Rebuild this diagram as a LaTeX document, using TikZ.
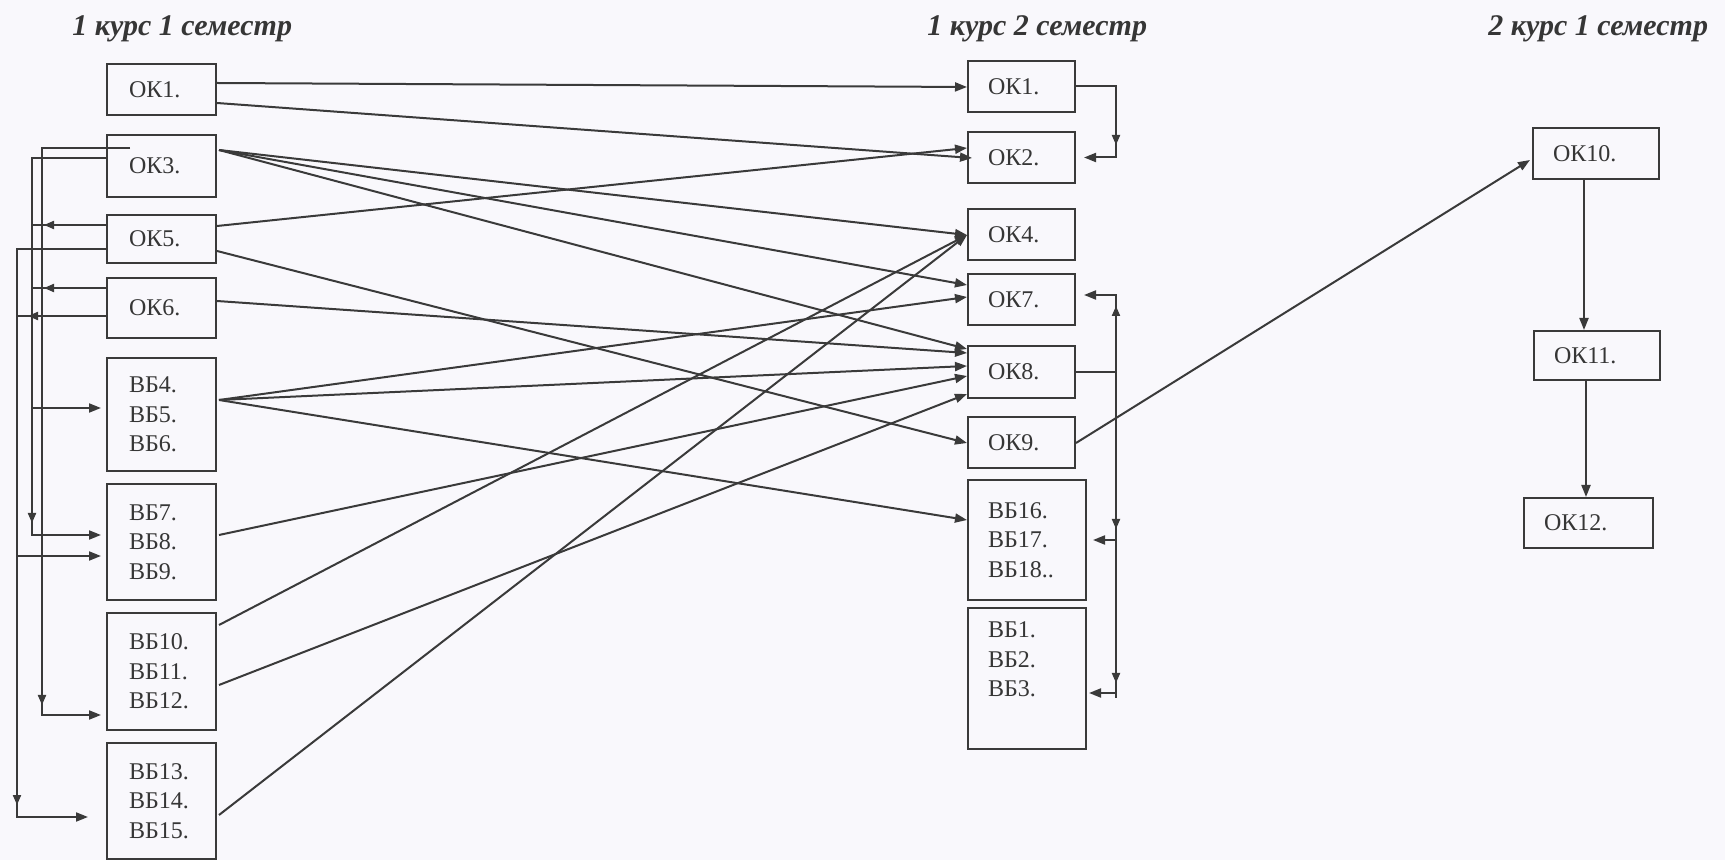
\documentclass[tikz,border=0pt]{standalone}
\usepackage{fontspec}
\setmainfont{Liberation Serif}
\usetikzlibrary{arrows.meta,calc}
\definecolor{ln}{HTML}{3A3A3A}
\definecolor{tx}{HTML}{363636}
\definecolor{bg}{HTML}{F9F8FC}
\newcommand{\bxfont}{\fontsize{12pt}{14.8pt}\selectfont}
\newcommand{\hdfont}{\fontsize{15pt}{18pt}\selectfont\bfseries\itshape}
\begin{document}
\begin{tikzpicture}[x=0.5pt,y=-0.5pt,
  box/.style={draw=ln, line width=1pt, anchor=north west, inner xsep=10pt, inner ysep=0pt, align=left, font=\bxfont, text=tx},
  boxa/.style={box, inner xsep=11pt, minimum width=54.5pt, text width=32.5pt},
  boxb/.style={box, minimum width=53.5pt, text width=33.5pt},
  boxbb/.style={box, minimum width=59pt, text width=39pt},
  boxc/.style={box, minimum width=63pt, text width=43pt},
  conn/.style={draw=ln, line width=1pt, -{Triangle[length=6pt,width=4.5pt]}},
  plain/.style={draw=ln, line width=1pt},
  tipmark/.style={draw=ln, line width=1pt, -{Triangle[length=5pt,width=4pt]}},
  head/.style={font=\hdfont, text=tx, anchor=base west, inner sep=0pt}]
\fill[bg] (0,0) rectangle (1725,860);
\useasboundingbox (0,0) rectangle (1725,860);

% headings
\node[head] (h1) at (72,36) {1 курс 1 семестр};
\node[head] (h2) at (927,36) {1 курс 2 семестр};
\node[head] (h3) at (1488,36) {2 курс 1 семестр};

% column 1
\node[boxa, minimum height=25.5pt] (ok1a) at (106,63) {ОК1.};
\node[boxa, minimum height=31pt] (ok3a) at (106,134) {ОК3.};
\node[boxa, minimum height=24pt] (ok5a) at (106,214) {ОК5.};
\node[boxa, minimum height=30pt] (ok6a) at (106,277) {ОК6.};
\node[boxa, minimum height=56.5pt] (bb4) at (106,357) {ВБ4.\\ВБ5.\\ВБ6.};
\node[boxa, minimum height=58pt] (bb7) at (106,483) {ВБ7.\\ВБ8.\\ВБ9.};
\node[boxa, minimum height=58.5pt] (bb10) at (106,612) {ВБ10.\\ВБ11.\\ВБ12.};
\node[boxa, minimum height=58pt] (bb13) at (106,742) {ВБ13.\\ВБ14.\\ВБ15.};

% column 2
\node[boxb, minimum height=25.5pt] (ok1b) at (967,60) {ОК1.};
\node[boxb, minimum height=25.5pt] (ok2b) at (967,131) {ОК2.};
\node[boxb, minimum height=25.5pt] (ok4b) at (967,208) {ОК4.};
\node[boxb, minimum height=25.5pt] (ok7b) at (967,273) {ОК7.};
\node[boxb, minimum height=26pt] (ok8b) at (967,345) {ОК8.};
\node[boxb, minimum height=25.5pt] (ok9b) at (967,416) {ОК9.};
\node[boxbb, minimum height=60pt] (bb16) at (967,479) {ВБ16.\\ВБ17.\\ВБ18..};
\node[boxbb, minimum height=70.5pt] (bb1) at (967,607) {ВБ1.\\ВБ2.\\ВБ3.\\ \strut};

% column 3
\node[boxc, minimum height=25.5pt] (ok10) at (1532,127) {ОК10.};
\node[boxc, minimum height=24.5pt] (ok11) at (1533,330) {ОК11.};
\node[boxc, minimum width=64.5pt, text width=44.5pt, minimum height=25pt] (ok12) at (1523,497) {ОК12.};

% middle connectors
\coordinate (o3) at ($(ok3a.north east)+(2,16)$);
\coordinate (b4) at ($(bb4.north east)+(2,43)$);
\coordinate (ok4in) at ($(ok4b.north west)+(0,27)$);
\draw[conn] ($(ok1a.north east)+(0,20)$) -- ($(ok1b.north west)+(0,27)$);
\draw[conn] ($(ok1a.north east)+(0,40)$) -- ($(ok2b.north west)+(5,27)$);
\draw[conn] (o3) -- (ok4in);
\draw[conn] (o3) -- ($(ok7b.north west)+(0,12)$);
\draw[conn] (o3) -- ($(ok8b.north west)+(0,4)$);
\draw[conn] ($(ok5a.north east)+(0,12)$) -- ($(ok2b.north west)+(0,17)$);
\draw[conn] ($(ok5a.north east)+(0,37)$) -- ($(ok9b.north west)+(0,27)$);
\draw[conn] ($(ok6a.north east)+(0,24)$) -- ($(ok8b.north west)+(0,8)$);
\draw[conn] (b4) -- ($(ok7b.north west)+(0,24)$);
\draw[conn] (b4) -- ($(ok8b.north west)+(0,21)$);
\draw[conn] (b4) -- ($(bb16.north west)+(0,41)$);
\draw[conn] ($(bb7.north east)+(2,52)$) -- ($(ok8b.north west)+(0,31)$);
\draw[conn] ($(bb10.north east)+(2,13)$) -- (ok4in);
\draw[conn] ($(bb10.north east)+(2,73)$) -- ($(ok8b.north west)+(0,49)$);
\draw[conn] ($(bb13.north east)+(2,73)$) -- (ok4in);
\draw[conn] ($(ok9b.north east)+(0,27)$) -- ($(ok10.north west)+(-2,33)$);
\draw[conn] ($(ok10.south west)+(52,0)$) -- ($(ok11.north west)+(51,0)$);
\draw[conn] ($(ok11.south west)+(53,0)$) -- ($(ok12.north west)+(63,0)$);

% left buses
\coordinate (xa) at (42,400);
\coordinate (xb) at (32,400);
\coordinate (xc) at (17,400);
\coordinate (bb12in) at ($(bb10.north west)+(-5,103)$);
\coordinate (bb8in) at ($(bb7.north west)+(-5,52)$);
\coordinate (bb4in) at ($(bb4.north west)+(-5,51)$);
\coordinate (bb9in) at ($(bb7.north west)+(-5,73)$);
\coordinate (bb15in) at ($(bb13.north west)+(-18,75)$);
\draw[conn] ($(ok3a.north west)+(24,14)$) -| (xa) |- (bb12in);
\draw[conn] ($(ok3a.north west)+(0,24)$) -| (xb) |- (bb8in);
\draw[conn] (xb |- bb4in) -- (bb4in);
\draw[plain] ($(ok5a.north west)+(0,11)$) -| (xb);
\draw[plain] ($(ok6a.north west)+(0,11)$) -| (xb);
\draw[conn] ($(ok5a.north west)+(0,35)$) -| (xc) |- (bb15in);
\draw[conn] (xc |- bb9in) -- (bb9in);
\draw[plain] ($(ok6a.north west)+(0,39)$) -| (xc);
\draw[tipmark] (54,225) -- (44,225);
\draw[tipmark] (54,288) -- (44,288);
\draw[tipmark] (38,316) -- (28,316);
\draw[tipmark] (32,511) -- (32,523);
\draw[tipmark] (42,693) -- (42,705);
\draw[tipmark] (17,793) -- (17,805);

% right bus of column 2
\coordinate (xr1) at (1116,120);
\coordinate (xr) at (1116,698);
\coordinate (ok2in) at ($(ok2b.east)+(8,0)$);
\coordinate (ok7in) at ($(ok7b.north east)+(8,22)$);
\coordinate (bb16in) at ($(bb16.east)+(6,0)$);
\coordinate (bb1in) at ($(bb1.north east)+(2,86)$);
\draw[conn] ($(ok1b.north east)+(0,26)$) -| (xr1) |- (ok2in);
\draw[tipmark] (1116,133) -- (1116,145);
\draw[conn] (xr) |- (ok7in);
\draw[tipmark] (1116,318) -- (1116,306);
\draw[plain] (ok8b.east) -- (xr |- ok8b.east);
\draw[conn] (xr |- bb16in) -- (bb16in);
\draw[tipmark] (1116,517) -- (1116,529);
\draw[conn] (xr |- bb1in) -- (bb1in);
\draw[tipmark] (1116,671) -- (1116,683);
\end{tikzpicture}
\end{document}
